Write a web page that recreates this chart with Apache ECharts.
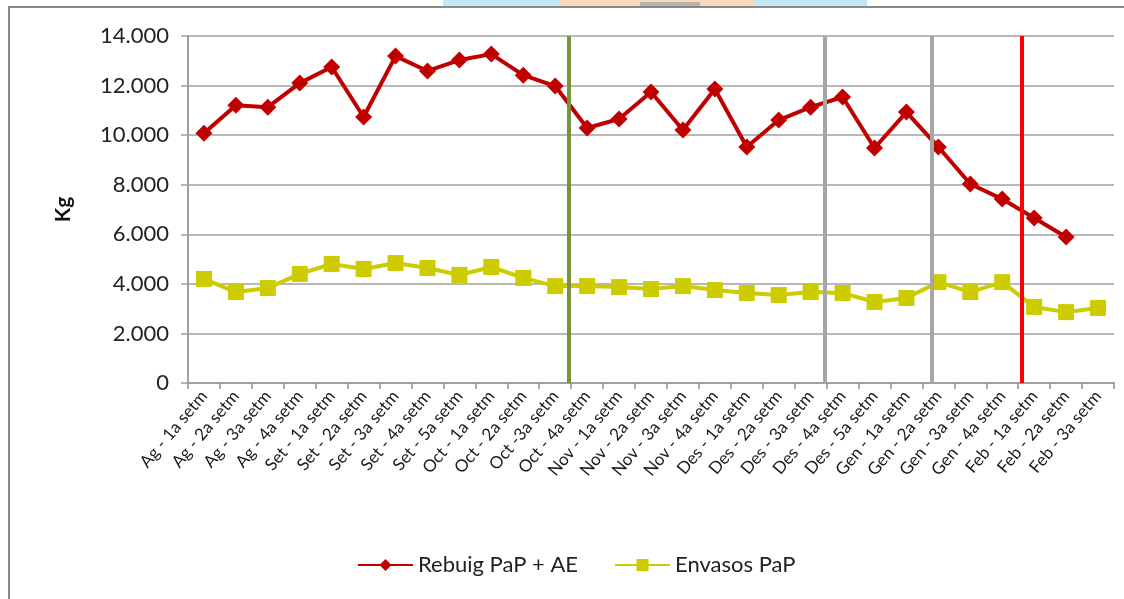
<!DOCTYPE html>
<html>
<head>
<meta charset="utf-8">
<script src="https://cdn.jsdelivr.net/npm/echarts@6/dist/echarts.min.js"></script>
<style>
  html, body { margin: 0; padding: 0; background: #fff; }
  #main { width: 1124px; height: 599px; }
</style>
</head>
<body>
<div id="main"></div>
<script>
// setmanes (agost - febrer)
var weeks = [
  'Ag - 1a setm', 'Ag - 2a setm', 'Ag - 3a setm', 'Ag - 4a setm',
  'Set - 1a setm', 'Set - 2a setm', 'Set - 3a setm', 'Set - 4a setm', 'Set - 5a setm',
  'Oct - 1a setm', 'Oct - 2a setm', 'Oct -3a setm', 'Oct - 4a setm',
  'Nov - 1a setm', 'Nov - 2a setm', 'Nov - 3a setm', 'Nov - 4a setm',
  'Des - 1a setm', 'Des - 2a setm', 'Des - 3a setm', 'Des - 4a setm', 'Des - 5a setm',
  'Gen - 1a setm', 'Gen - 2a setm', 'Gen - 3a setm', 'Gen - 4a setm',
  'Feb - 1a setm', 'Feb - 2a setm', 'Feb - 3a setm'
];

var rebuig = [10080, 11210, 11130, 12100, 12750, 10730, 13190, 12590, 13030, 13270, 12420, 11980,
  10290, 10650, 11740, 10210, 11860, 9520, 10610, 11130, 11540, 9480, 10930, 9520, 8030, 7420,
  6660, 5890, null];

var envasos = [4200, 3670, 3830, 4400, 4800, 4600, 4840, 4640, 4360, 4680, 4240, 3910,
  3910, 3870, 3790, 3910, 3750, 3630, 3550, 3670, 3630, 3270, 3430, 4070, 3670, 4070,
  3070, 2860, 3030];

// linies verticals (posicio en setmanes des de l'inici)
var dividerPos = [11.93, 19.95, 23.3, 26.12];
var dividerColor = ['#77933C', '#A6A6A6', '#A6A6A6', '#FF0000'];

var yTicks = [0, 2000, 4000, 6000, 8000, 10000, 12000, 14000];

var myChart = echarts.init(document.getElementById('main'));

var fmt = function (v) {
  return v === 0 ? '0' : String(v).replace(/(\d)(?=(\d{3})+$)/g, '$1.');
};

var option = {
  backgroundColor: '#fff',
  textStyle: { fontFamily: 'Lato' },
  animation: false,
  graphic: [
    { type: 'rect', shape: { x: 443, y: 0, width: 424, height: 8 }, style: { fill: '#c6e6f3' } },
    { type: 'rect', shape: { x: 560, y: 0, width: 193, height: 8 }, style: { fill: '#f6d9c0' } },
    { type: 'rect', shape: { x: 640, y: 2, width: 60, height: 6 }, style: { fill: '#b9b2aa' } },
    { type: 'rect', shape: { x: 9, y: 7, width: 1200, height: 700 }, style: { fill: 'none', stroke: '#8a8a8a', lineWidth: 2 } }
  ],
  grid: { left: 188, right: 10, top: 36, bottom: 216 },
  legend: {
    bottom: 18,
    left: 352,
    itemWidth: 55,
    itemHeight: 15,
    itemGap: 36,
    textStyle: { fontSize: 22, color: '#222', fontFamily: 'Lato' },
    data: ['Rebuig PaP + AE', 'Envasos PaP']
  },
  xAxis: [
    {
      type: 'category',
      data: weeks,
      boundaryGap: true,
      axisLine: { lineStyle: { color: '#a0a0a0', width: 2 } },
      axisTick: { show: true, length: 6, lineStyle: { color: '#909090', width: 1.5 } },
      axisLabel: { interval: 0, rotate: 50, fontSize: 17, color: '#1a1a1a', margin: 10 }
    },
    { type: 'value', min: 0, max: weeks.length, show: false }
  ],
  yAxis: {
    type: 'value',
    min: yTicks[0],
    max: yTicks[yTicks.length - 1],
    interval: 2000,
    name: 'Kg',
    nameLocation: 'middle',
    nameGap: 114,
    nameRotate: 90,
    nameTextStyle: { fontSize: 21, fontWeight: 'bold', color: '#111' },
    axisLine: { show: true, lineStyle: { color: '#a0a0a0', width: 2 } },
    axisTick: { show: true, length: 7, lineStyle: { color: '#a0a0a0', width: 1.5 } },
    splitLine: { lineStyle: { color: '#a0a0a0', width: 1.5 } },
    axisLabel: { fontSize: 22, color: '#222', margin: 19, formatter: fmt }
  },
  series: [
    {
      name: 'Rebuig PaP + AE',
      type: 'line',
      data: rebuig,
      symbol: 'diamond',
      symbolSize: 17,
      color: '#C00000',
      lineStyle: { width: 4, color: '#C00000' },
      itemStyle: { color: '#C00000' },
      z: 3
    },
    {
      name: 'Envasos PaP',
      type: 'line',
      data: envasos,
      symbol: 'rect',
      symbolSize: 16,
      color: '#CCCC00',
      lineStyle: { width: 4, color: '#CCCC00' },
      itemStyle: { color: '#CCCC00' },
      z: 3
    },
    {
      name: 'dividers',
      type: 'line',
      xAxisIndex: 1,
      data: [],
      z: 4,
      markLine: {
        silent: true,
        symbol: ['none', 'none'],
        label: { show: false },
        data: dividerPos.map(function (p, i) {
          return { xAxis: p, lineStyle: { color: dividerColor[i], width: 4, type: 'solid' } };
        })
      }
    }
  ]
};

myChart.setOption(option);
</script>
</body>
</html>
